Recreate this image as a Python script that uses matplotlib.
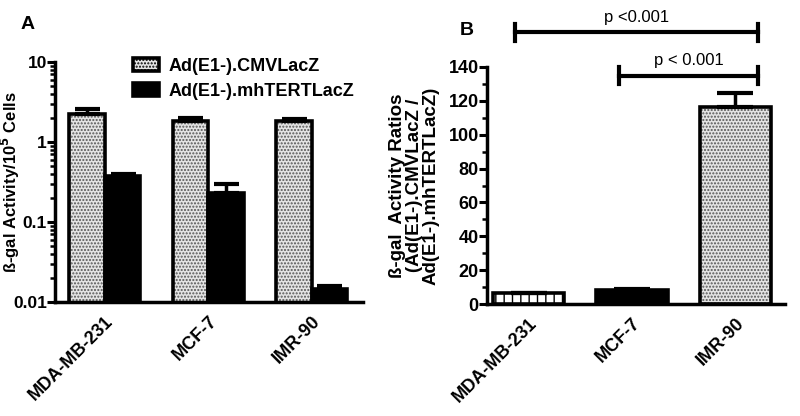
import matplotlib
matplotlib.use('Agg')
import matplotlib.pyplot as plt
import matplotlib.ticker as mticker
import matplotlib.patches as mpatches
import numpy as np

plt.rcParams['font.family'] = ['Liberation Sans', 'DejaVu Sans']
plt.rcParams['font.weight'] = 'bold'
plt.rcParams['mathtext.default'] = 'bf'

# data
cell_lines = ['MDA-MB-231', 'MCF-7', 'IMR-90']
cmv_vals = [2.25, 1.83, 1.83]
cmv_err = [0.30, 0.15, 0.12]
tert_vals = [0.375, 0.23, 0.0145]
tert_err = [0.02, 0.07, 0.0015]
ratio_vals = [6.5, 8.3, 116.4]
ratio_err = [0.2, 0.4, 8.0]
comparisons = [(0, 2, 'p <0.001', 160.5), (1, 2, 'p < 0.001', 134.8)]

DOT_FACE = '#e4e4e4'
DOT_HATCH = '#555555'
LW = 2.6

fig = plt.figure(figsize=(8, 4.16), dpi=100)
axA = fig.add_axes([0.069, 0.274, 0.385, 0.577])
axB = fig.add_axes([0.609, 0.269, 0.372, 0.570])


def dotted_bar(ax, x, h, w, **kw):
    ax.bar(x, h, w, color=DOT_FACE, edgecolor=DOT_HATCH, hatch='.....', linewidth=0, zorder=2, **kw)
    ax.bar(x, h, w, color='none', edgecolor='black', linewidth=LW, zorder=3, **kw)


# ---- Panel A ----
x = np.arange(len(cell_lines))
w = 0.345
dotted_bar(axA, x - w / 2, cmv_vals, w)
axA.bar(x + w / 2, tert_vals, w, color='black', edgecolor='black', linewidth=LW, zorder=3)
axA.errorbar(x - w / 2, cmv_vals, yerr=[np.zeros(3), cmv_err], fmt='none', ecolor='black',
             elinewidth=2.5, capsize=9, capthick=3, zorder=4)
axA.errorbar(x + w / 2, tert_vals, yerr=[np.zeros(3), tert_err], fmt='none', ecolor='black',
             elinewidth=2.5, capsize=9, capthick=3, zorder=4)
axA.set_yscale('log')
axA.set_ylim(0.01, 10)
axA.set_xlim(-0.48, 2.5)
axA.yaxis.set_major_locator(mticker.FixedLocator([0.01, 0.1, 1, 10]))
axA.yaxis.set_major_formatter(mticker.FuncFormatter(lambda v, _: f'{v:g}'))
axA.yaxis.set_minor_formatter(mticker.NullFormatter())
axA.set_ylabel(r'ß-gal Activity/10$^{5}$ Cells', fontsize=12, fontweight='bold')
axA.yaxis.set_label_coords(-0.107, 0.5)

leg_handles = [
    mpatches.Patch(facecolor=DOT_FACE, edgecolor='black', hatch='.....', linewidth=LW),
    mpatches.Patch(facecolor='black', edgecolor='black', linewidth=LW),
]
axA.legend(leg_handles, ['Ad(E1-).CMVLacZ', 'Ad(E1-).mhTERTLacZ'], loc='upper left',
           bbox_to_anchor=(0.2, 1.085), frameon=False, fontsize=13, handlelength=1.45,
           handleheight=0.75, handletextpad=0.5, labelspacing=0.45)
axA.text(-0.09, 1.12, 'A', transform=axA.transAxes, fontsize=14, fontweight='bold',
         ha='center', va='bottom')

# ---- Panel B ----
wb = 0.69
axB.bar(0, ratio_vals[0], wb, color='white', edgecolor='black', hatch='||', linewidth=LW, zorder=3)
axB.bar(1, ratio_vals[1], wb, color='black', edgecolor='black', linewidth=LW, zorder=3)
dotted_bar(axB, 2, ratio_vals[2], wb)
axB.errorbar(x, ratio_vals, yerr=[np.zeros(3), ratio_err], fmt='none', ecolor='black',
             elinewidth=2.5, capsize=13, capthick=3, zorder=4)
axB.set_ylim(0, 140)
axB.set_xlim(-0.4, 2.48)
axB.yaxis.set_major_locator(mticker.MultipleLocator(20))
axB.yaxis.set_minor_locator(mticker.MultipleLocator(10))
axB.set_ylabel('ß-gal  Activity Ratios\n(Ad(E1-).CMVLacZ /\nAd(E1-).mhTERTLacZ)',
               fontsize=13.5, fontweight='bold', linespacing=1.0)
axB.yaxis.set_label_coords(-0.16, 0.5)
axB.text(-0.07, 1.12, 'B', transform=axB.transAxes, fontsize=14, fontweight='bold',
         ha='center', va='bottom')

for i, j, label, yb in comparisons:
    x1, x2 = i - 0.13 if i == 0 else i - 0.12, j + 0.22
    axB.plot([x1, x2], [yb, yb], color='black', lw=3, clip_on=False, zorder=5)
    for xx in (x1, x2):
        axB.plot([xx, xx], [yb - 5, yb + 5], color='black', lw=3, clip_on=False, zorder=5)
    axB.text((x1 + x2) / 2, yb + 4.5, label, ha='center', va='bottom', fontsize=12,
             fontweight='normal', clip_on=False)

for ax, ysize in ((axA, 12.5), (axB, 13)):
    ax.set_xticks(x)
    ax.set_xticklabels(cell_lines, rotation=45, ha='right', rotation_mode='anchor',
                       fontsize=13, fontweight='bold')
    ax.tick_params(axis='x', length=0, pad=8)
    ax.tick_params(axis='y', which='major', length=5.5, width=2.2, labelsize=ysize, pad=0.5)
    ax.tick_params(axis='y', which='minor', length=3.5, width=1.8)
    for s in ('top', 'right'):
        ax.spines[s].set_visible(False)
    for s in ('left', 'bottom'):
        ax.spines[s].set_linewidth(2.5)
    for lab in ax.get_yticklabels():
        lab.set_fontweight('bold')

fig.savefig('out.png', dpi=100)
